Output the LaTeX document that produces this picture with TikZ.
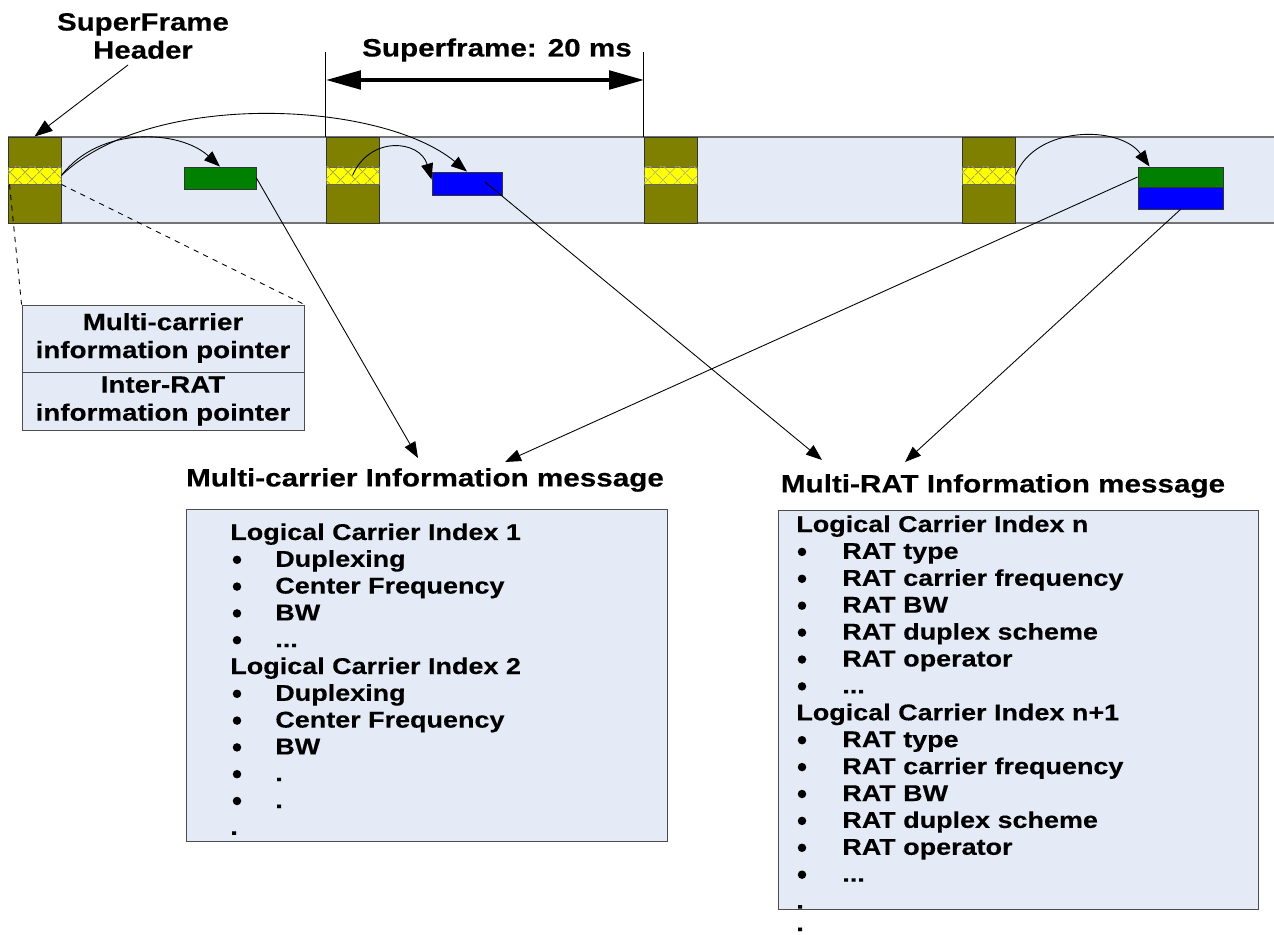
\documentclass[tikz,border=0pt]{standalone}
\usepackage{fontspec}
\setmainfont{Liberation Sans}[FakeStretch=1.18, BoldFeatures={FakeBold=0.3}]
\usetikzlibrary{arrows.meta,patterns.meta,fit,calc}
\definecolor{bandfill}{RGB}{229,235,246}
\definecolor{olivebox}{RGB}{128,128,0}
\definecolor{grn}{RGB}{0,128,0}
\definecolor{blu}{RGB}{0,0,255}
\definecolor{yel}{RGB}{255,255,0}
\newcommand\mydots{...}
\newcommand\mydot{.}
\begin{document}
\begin{tikzpicture}[x=0.02cm,y=-0.02cm,
  body/.style={font=\fontsize{13}{15}\selectfont\bfseries, anchor=base west, inner sep=0pt},
  ttl/.style={font=\fontsize{14.3}{16}\selectfont\bfseries, inner sep=0pt},
  bul/.style={circle, fill=black, inner sep=0pt, minimum size=0.17cm},
  area/.style={inner sep=0pt, draw=black!80, line width=0.5pt},
  hdr/.style={area, fill=olivebox},
  stripe/.style={area, draw=black!60, fill=yel,
    postaction={pattern={Lines[angle=45,distance=6.5pt,line width=0.5pt]}, pattern color=olivebox!70},
    postaction={pattern={Lines[angle=-45,distance=6.5pt,line width=0.5pt]}, pattern color=olivebox!70}},
  msgbox/.style={area, draw=black!70, fill=bandfill},
  ptrtxt/.style={align=center, inner sep=0pt, font=\fontsize{13.4}{15.9}\selectfont\bfseries},
  ptr/.style={-{Triangle[length=0.32cm,width=0.24cm]}, line width=0.5pt},
  thinln/.style={line width=0.5pt}
]
\useasboundingbox (0,0) rectangle (1274,935);

% band
\fill[bandfill] (8,137) rectangle (1274,223);
\draw[black!55, line width=0.8pt] (8,137) -- (1274,137);
\draw[black!55, line width=0.8pt] (8,223) -- (1274,223);

% header blocks
\foreach \i/\x in {1/8,2/326,3/644,4/962}{
  \node[hdr, fit={(\x,137)(\x+53,223)}] (h\i) {};
  \node[stripe, fit={(\x,167)(\x+53,184)}] (h\i s) {};
}

% data blocks
\node[area, fill=grn, fit={(184,167)(256,189)}] (g1) {};
\node[area, fill=blu, fit={(432,172)(502,195)}] (b1) {};
\node[area, fill=grn, fit={(1138,167)(1223,187)}] (g2) {};
\node[area, fill=blu, fit={(1138,187)(1223,209)}] (b2) {};

% labels at top
\node[ttl, align=center, font=\fontsize{14.2}{16}\selectfont\bfseries] (sfh) at (143,36) {SuperFrame\\Header};
\node[ttl] (sfl) at (497,50) {Superframe: 20 ms};

% dimension
\draw[thinln] (h2.north west) -- ++(0,-85) coordinate (dL);
\draw[thinln] (h3.north west) -- ++(0,-85) coordinate (dR);
\coordinate (dLa) at (326,80);
\coordinate (dRa) at (644,80);
\draw[{Triangle[length=0.7cm,width=0.37cm]}-{Triangle[length=0.7cm,width=0.37cm]}, line width=2.2pt] (dLa) -- (dRa);

% header pointer arrow
\coordinate (sfhs) at (128,65);
\draw[-{Triangle[length=0.36cm,width=0.26cm]}, line width=0.5pt] (sfhs) -- (h1.north);

% pointer box
\node[msgbox, fit={(22,305)(304,372)}] (pa) {};
\node[msgbox, fit={(22,372)(304,430)}] (pb) {};
\node[ptrtxt] (pat) at (163,338) {Multi-carrier\\information pointer};
\node[ptrtxt] (pbt) at (163,401) {Inter-RAT\\information pointer};

% dashed expansion lines
\draw[dashed, thinln] ([xshift=0.04cm]h1s.south west) -- (pa.north west);
\draw[dashed, thinln] (h1s.south east) -- (pa.north east);

% curved pointers
\draw[ptr] (h1s.east) .. controls (100,125) and (180,130) .. (g1.north);
\draw[ptr] (h1s.east) .. controls (150,90) and (380,100) .. (b1.north);
\draw[ptr] (h2s.center) .. controls (370,135) and (420,140) .. ([yshift=-0.16cm]b1.north west);
\draw[ptr] (h4s.east) .. controls (1035,125) and (1120,125) .. ([xshift=0.24cm]g2.north west);

% message titles
\node[ttl] (mct) at (425,480) {Multi-carrier Information message};
\node[ttl] (mrt) at (1003,486) {Multi-RAT Information message};

% straight pointers to messages
\coordinate (t1) at (418,458);
\coordinate (t2) at (505,462);
\coordinate (t3) at (822,460);
\coordinate (t4) at (905,462);
\coordinate (b1src) at (485,182);
\draw[ptr] (g1.east) -- (t1);
\draw[ptr] (g2.west) -- (t2);
\draw[ptr] (b1src) -- (t3);
\draw[ptr] (b2.south) -- (t4);

% message boxes
\node[msgbox, fit={(186,509)(667,841)}] (mcb) {};
\node[msgbox, fit={(778,510)(1258,909)}] (mrb) {};

% left list
\foreach \k/\b/\t in {0/0/Logical Carrier Index 1, 1/1/Duplexing, 2/1/Center Frequency, 3/1/BW, 4/1/\mydots, 5/0/Logical Carrier Index 2, 6/1/Duplexing, 7/1/Center Frequency, 8/1/BW, 9/1/\mydot, 10/1/\mydot, 11/0/\mydot}{
  \ifnum\b=1
    \node[bul] (lb\k) at (237,533+\k*26.8) {};
    \node[body] (lt\k) at (275,540+\k*26.8) {\t};
  \else
    \node[body] (lt\k) at (230,540+\k*26.8) {\t};
  \fi
}

% right list
\foreach \k/\b/\t in {0/0/Logical Carrier Index n, 1/1/RAT type, 2/1/RAT carrier frequency, 3/1/RAT BW, 4/1/RAT duplex scheme, 5/1/RAT operator, 6/1/\mydots, 7/0/Logical Carrier Index n+1, 8/1/RAT type, 9/1/RAT carrier frequency, 10/1/RAT BW, 11/1/RAT duplex scheme, 12/1/RAT operator, 13/1/\mydots, 14/0/\mydot}{
  \ifnum\b=1
    \node[bul] (rb\k) at (802,525+\k*26.9) {};
    \node[body] (rt\k) at (842,532+\k*26.9) {\t};
  \else
    \node[body] (rt\k) at (796,532+\k*26.9) {\t};
  \fi
}
\node[body] (rt15) at (796,931) {\mydot};
\end{tikzpicture}
\end{document}
